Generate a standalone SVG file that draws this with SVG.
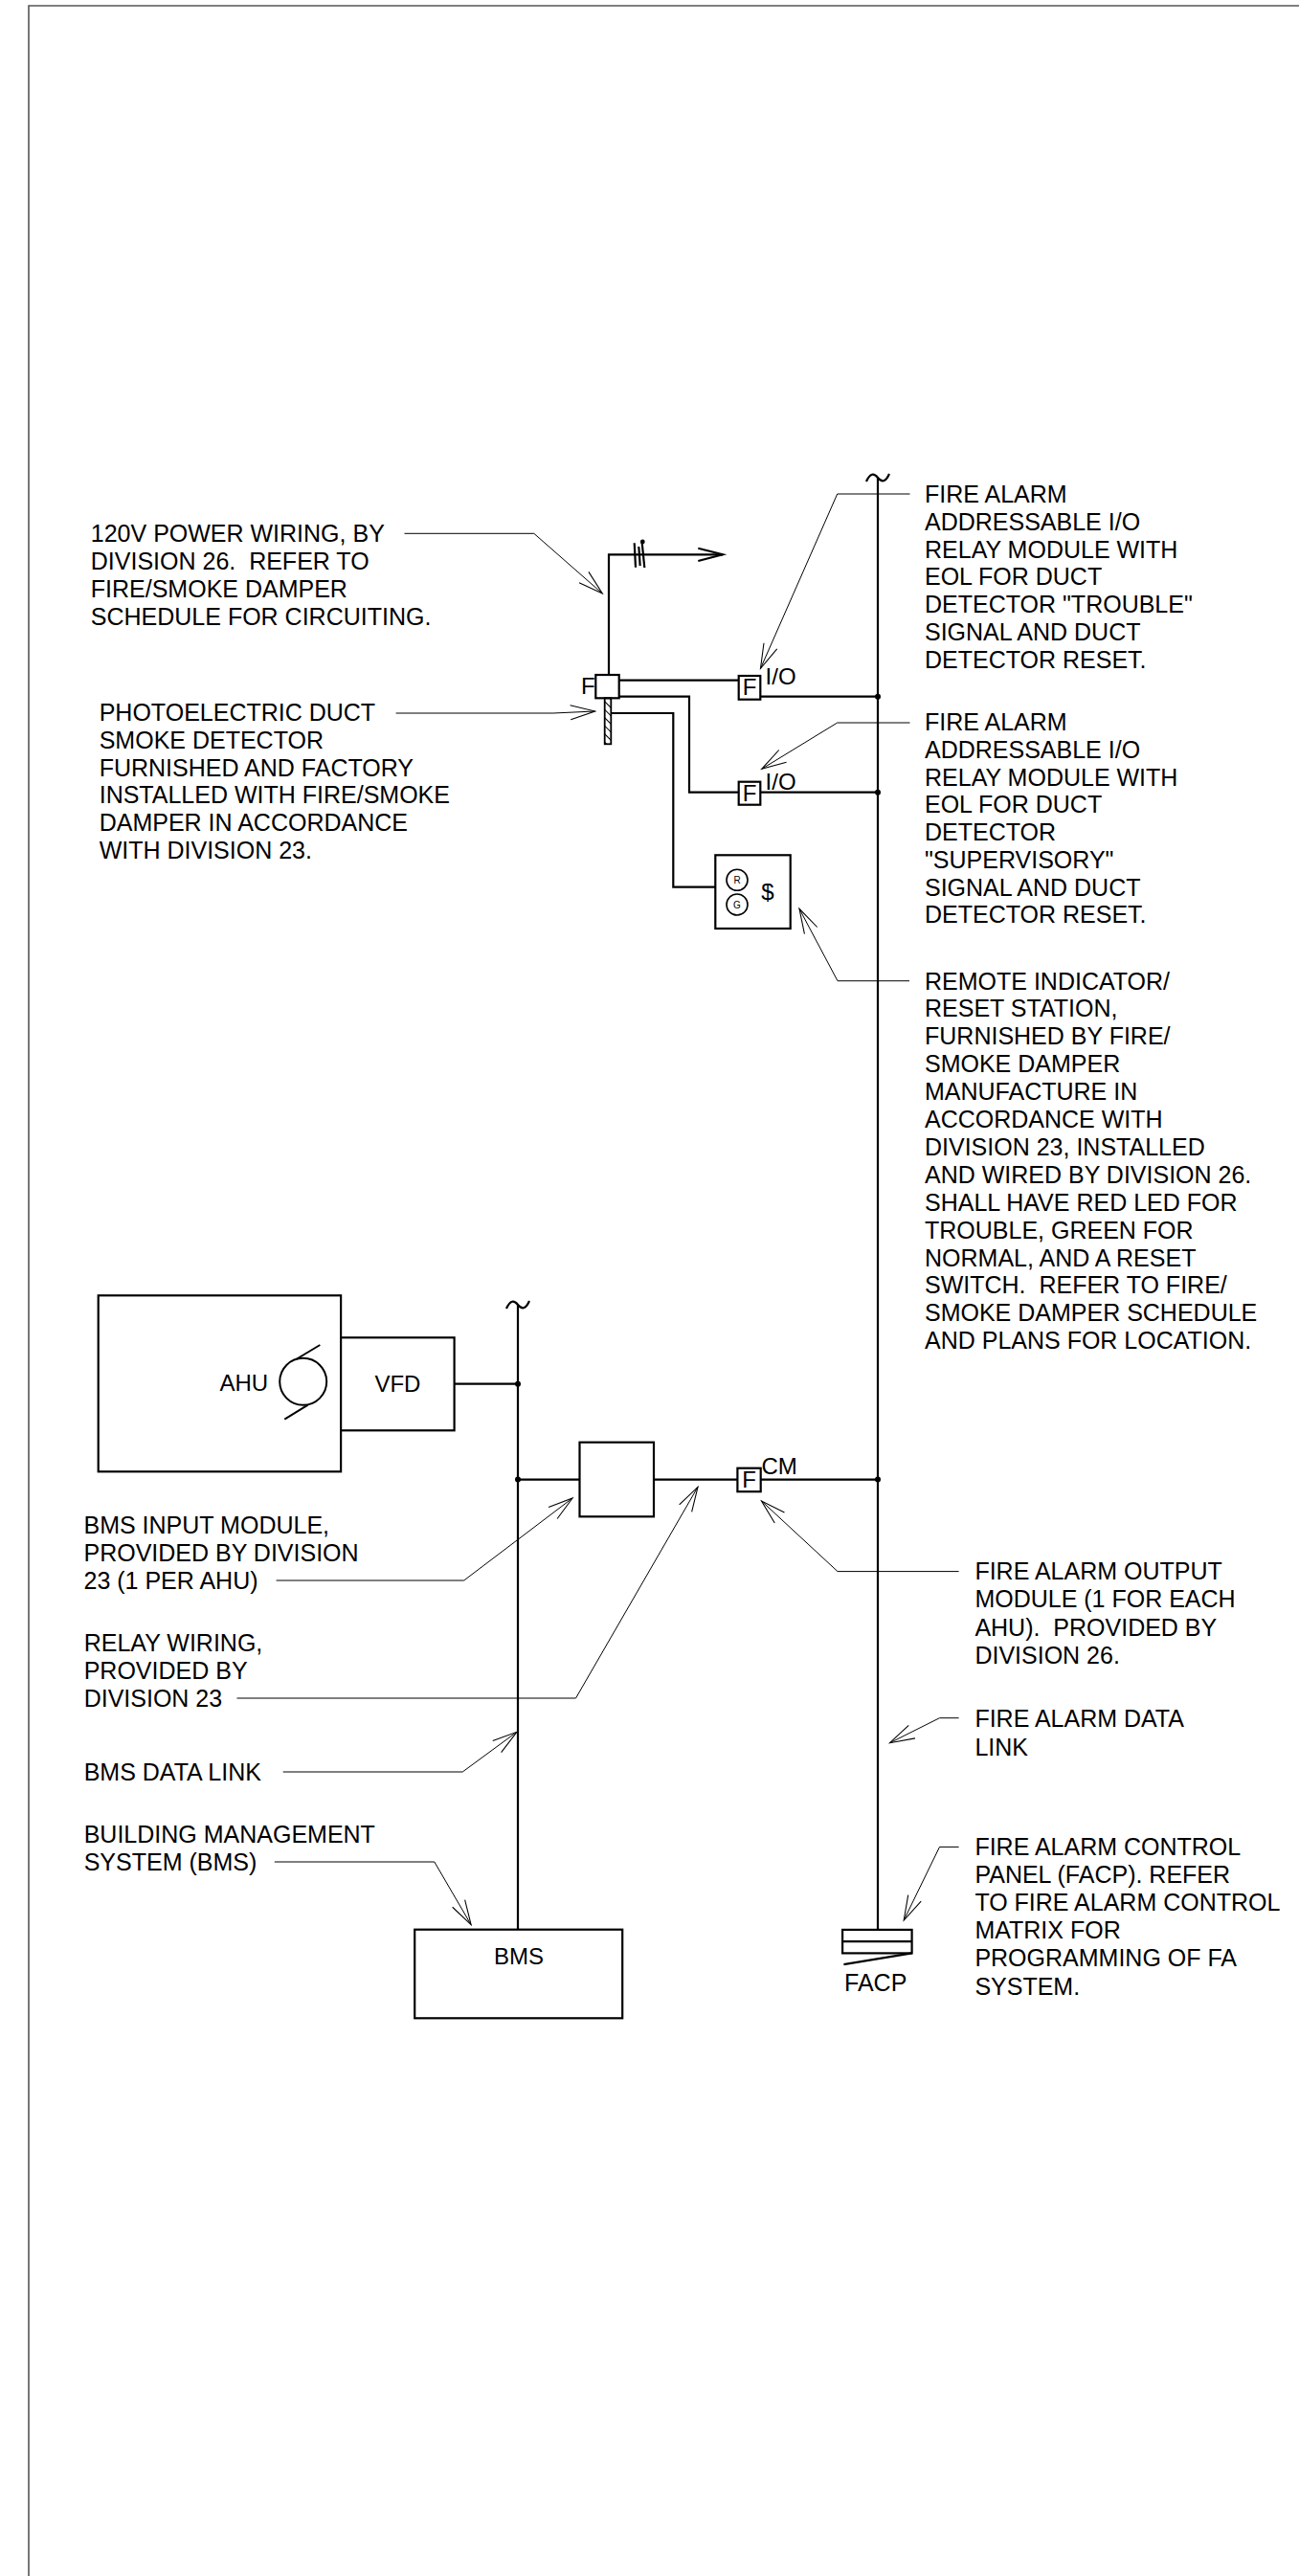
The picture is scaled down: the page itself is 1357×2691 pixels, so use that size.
<svg xmlns="http://www.w3.org/2000/svg" width="1357" height="2691" viewBox="0 0 1357 2691">
<style>
.note{font-family:"Liberation Sans",Arial,sans-serif;font-size:25px;fill:#000;white-space:pre}
.lbl{font-family:"Liberation Sans",Arial,sans-serif;font-size:24px;fill:#000}
.sm{font-family:"Liberation Sans",Arial,sans-serif;font-size:10px;fill:#000}
.wire{fill:none;stroke:#000;stroke-width:2.2}
.box{fill:#fff;stroke:#000;stroke-width:2.2}
.lead{fill:none;stroke:#000;stroke-width:1}
.frame{fill:none;stroke:#555;stroke-width:1.6}
</style>
<defs>
<marker id="open" markerUnits="userSpaceOnUse" markerWidth="30" markerHeight="20" viewBox="-26 -9 28 18" refX="0" refY="0" orient="auto">
<path d="M-24,-7 L0,0 L-24,7" fill="none" stroke="#000" stroke-width="1"/>
</marker>
<pattern id="hatch" patternUnits="userSpaceOnUse" width="6" height="6" patternTransform="rotate(-45)">
<line x1="0" y1="0" x2="0" y2="6" stroke="#000" stroke-width="2"/>
</pattern>
</defs>
<rect width="1357" height="2691" fill="#fff"/>
<path class="frame" d="M30,2691 V6 H1357"/>

<g id="connectors">
<path class="wire" d="M917,499 V2016"/>
<path class="wire" d="M905,503 C909,494 913,494 917,499 C921,504 925,504 929,495"/>
<path class="wire" d="M541,1363 V2016"/>
<path class="wire" d="M529,1367 C533,1358 537,1358 541,1363 C545,1368 549,1368 553,1359"/>
<path class="wire" d="M636,705 V579.3 H755"/>
<path class="wire" d="M729.3,572.7 L755,579.3 L729.3,586"/>
<line class="wire" x1="662.7" y1="567.3" x2="664" y2="592.7"/>
<line class="wire" x1="667.3" y1="571" x2="668.7" y2="591"/>
<line class="wire" x1="670.7" y1="567" x2="673.3" y2="593"/>
<circle cx="671.3" cy="566" r="2.4" fill="#000"/>
<path class="wire" d="M646.7,710.7 H771.7"/>
<path class="wire" d="M646.7,727.7 H720 V827.7 H771.7"/>
<path class="wire" d="M638.3,745 H703.3 V926.7 H747.3"/>
<path class="wire" d="M794.3,727.7 H917"/>
<path class="wire" d="M794.3,827.7 H917"/>
<path class="wire" d="M474.6,1445.7 H541"/>
<path class="wire" d="M541,1545.6 H605.5"/>
<path class="wire" d="M683,1545.6 H770.4"/>
<path class="wire" d="M794.7,1545.6 H917"/>
<circle cx="917" cy="727.7" r="3" fill="#000"/>
<circle cx="917" cy="827.7" r="3" fill="#000"/>
<circle cx="917" cy="1545.6" r="3" fill="#000"/>
<circle cx="541" cy="1445.7" r="3" fill="#000"/>
<circle cx="541" cy="1545.6" r="3" fill="#000"/>
<polyline class="lead" marker-end="url(#open)" points="422.5,557.3 557.8,557.3 629.3,620"/>
<polyline class="lead" marker-end="url(#open)" points="413.6,745 577.9,745 621.6,743"/>
<polyline class="lead" marker-end="url(#open)" points="950.5,516 874.7,516 794.5,698.3"/>
<polyline class="lead" marker-end="url(#open)" points="950.5,755 874.7,755 795.7,803.3"/>
<polyline class="lead" marker-end="url(#open)" points="950,1024.7 875,1024.7 835,949.3"/>
<polyline class="lead" marker-end="url(#open)" points="288.6,1651 484.7,1651 598.1,1565"/>
<polyline class="lead" marker-end="url(#open)" points="247.5,1774 601.5,1774 729,1553.3"/>
<polyline class="lead" marker-end="url(#open)" points="295.7,1851 483.2,1851 539.9,1809.3"/>
<polyline class="lead" marker-end="url(#open)" points="286.8,1945 453.8,1945 492.1,2010.7"/>
<polyline class="lead" marker-end="url(#open)" points="1001.6,1641.6 875,1641.6 795.5,1568"/>
<polyline class="lead" marker-end="url(#open)" points="1001.6,1794.7 981.5,1794.7 929.6,1820.7"/>
<polyline class="lead" marker-end="url(#open)" points="1001.6,1929.4 981.5,1929.4 944.2,2006"/>
</g>

<g id="duct-detector">
<rect class="box" x="622.3" y="705" width="24.4" height="24.3"/>
<rect x="631.7" y="729.3" width="6.6" height="48" fill="url(#hatch)" stroke="#000" stroke-width="1.8"/>
<text class="lbl" x="607" y="724.5" font-size="23">F</text>
</g>

<g id="io-module-trouble">
<rect class="box" x="771.7" y="706" width="22.6" height="24.7"/>
<text class="lbl" x="783" y="726" font-size="22" text-anchor="middle">F</text>
<text class="lbl" x="799.6" y="715">I/O</text>
</g>

<g id="io-module-supervisory">
<rect class="box" x="771.7" y="816.7" width="22.6" height="24"/>
<text class="lbl" x="783" y="836.5" font-size="22" text-anchor="middle">F</text>
<text class="lbl" x="799.6" y="825">I/O</text>
</g>

<g id="remote-station">
<rect class="box" x="747.3" y="893.3" width="78.4" height="76.7"/>
<circle cx="770" cy="919.3" r="11" fill="none" stroke="#000" stroke-width="1.6"/>
<circle cx="770" cy="945" r="11" fill="none" stroke="#000" stroke-width="1.6"/>
<text class="sm" x="770" y="923" text-anchor="middle">R</text>
<text class="sm" x="770" y="948.7" text-anchor="middle">G</text>
<text class="lbl" x="802" y="940" text-anchor="middle">$</text>
</g>

<g id="ahu">
<rect class="box" x="102.7" y="1353.3" width="253.4" height="184"/>
<text class="lbl" x="229.5" y="1452.7" font-size="25">AHU</text>
<circle cx="316.7" cy="1443.3" r="24.5" fill="none" stroke="#000" stroke-width="2"/>
<line x1="309.3" y1="1420" x2="334.3" y2="1405" stroke="#000" stroke-width="2"/>
<line x1="321.7" y1="1467.7" x2="297.3" y2="1482.7" stroke="#000" stroke-width="2"/>
</g>

<g id="vfd">
<rect class="box" x="356.1" y="1397.3" width="118.5" height="97"/>
<text class="lbl" x="415.4" y="1454.3" font-size="25" text-anchor="middle">VFD</text>
</g>

<g id="bms-input-module">
<rect class="box" x="605.5" y="1506.7" width="77.5" height="77.6"/>
</g>

<g id="fa-output-module">
<rect class="box" x="770.4" y="1533.7" width="24.3" height="24.5"/>
<text class="lbl" x="782.5" y="1554" font-size="22" text-anchor="middle">F</text>
<text class="lbl" x="795.5" y="1540">CM</text>
</g>

<g id="bms">
<rect class="box" x="433.2" y="2015.7" width="217" height="92.6"/>
<text class="lbl" x="542" y="2051.7" text-anchor="middle">BMS</text>
</g>

<g id="facp">
<rect class="box" x="880.1" y="2015.9" width="72.5" height="24.5"/>
<line class="wire" x1="880.1" y1="2028.1" x2="952.6" y2="2028.1"/>
<line class="wire" x1="881.4" y1="2052.2" x2="952.6" y2="2040.4"/>
<text class="note" x="914.7" y="2079.8" text-anchor="middle">FACP</text>
</g>

<g id="notes">
<text class="note" xml:space="preserve" x="94.8" y="566"><tspan x="94.8">120V POWER WIRING, BY</tspan><tspan x="94.8" dy="29">DIVISION 26.  REFER TO</tspan><tspan x="94.8" dy="29">FIRE/SMOKE DAMPER</tspan><tspan x="94.8" dy="29">SCHEDULE FOR CIRCUITING.</tspan></text>
<text class="note" x="103.7" y="753.3"><tspan x="103.7">PHOTOELECTRIC DUCT</tspan><tspan x="103.7" dy="28.7">SMOKE DETECTOR</tspan><tspan x="103.7" dy="28.7">FURNISHED AND FACTORY</tspan><tspan x="103.7" dy="28.7">INSTALLED WITH FIRE/SMOKE</tspan><tspan x="103.7" dy="28.7">DAMPER IN ACCORDANCE</tspan><tspan x="103.7" dy="28.7">WITH DIVISION 23.</tspan></text>
<text class="note" x="966" y="525"><tspan x="966">FIRE ALARM</tspan><tspan x="966" dy="28.75">ADDRESSABLE I/O</tspan><tspan x="966" dy="28.75">RELAY MODULE WITH</tspan><tspan x="966" dy="28.75">EOL FOR DUCT</tspan><tspan x="966" dy="28.75">DETECTOR "TROUBLE"</tspan><tspan x="966" dy="28.75">SIGNAL AND DUCT</tspan><tspan x="966" dy="28.75">DETECTOR RESET.</tspan></text>
<text class="note" x="966" y="763"><tspan x="966">FIRE ALARM</tspan><tspan x="966" dy="28.75">ADDRESSABLE I/O</tspan><tspan x="966" dy="28.75">RELAY MODULE WITH</tspan><tspan x="966" dy="28.75">EOL FOR DUCT</tspan><tspan x="966" dy="28.75">DETECTOR</tspan><tspan x="966" dy="28.75">"SUPERVISORY"</tspan><tspan x="966" dy="28.75">SIGNAL AND DUCT</tspan><tspan x="966" dy="28.75">DETECTOR RESET.</tspan></text>
<text class="note" xml:space="preserve" x="966" y="1033.5"><tspan x="966">REMOTE INDICATOR/</tspan><tspan x="966" dy="28.9">RESET STATION,</tspan><tspan x="966" dy="28.9">FURNISHED BY FIRE/</tspan><tspan x="966" dy="28.9">SMOKE DAMPER</tspan><tspan x="966" dy="28.9">MANUFACTURE IN</tspan><tspan x="966" dy="28.9">ACCORDANCE WITH</tspan><tspan x="966" dy="28.9">DIVISION 23, INSTALLED</tspan><tspan x="966" dy="28.9">AND WIRED BY DIVISION 26.</tspan><tspan x="966" dy="28.9">SHALL HAVE RED LED FOR</tspan><tspan x="966" dy="28.9">TROUBLE, GREEN FOR</tspan><tspan x="966" dy="28.9">NORMAL, AND A RESET</tspan><tspan x="966" dy="28.9">SWITCH.  REFER TO FIRE/</tspan><tspan x="966" dy="28.9">SMOKE DAMPER SCHEDULE</tspan><tspan x="966" dy="28.9">AND PLANS FOR LOCATION.</tspan></text>
<text class="note" x="87.5" y="1601.7"><tspan x="87.5">BMS INPUT MODULE,</tspan><tspan x="87.5" dy="29">PROVIDED BY DIVISION</tspan><tspan x="87.5" dy="29">23 (1 PER AHU)</tspan></text>
<text class="note" x="87.7" y="1725"><tspan x="87.7">RELAY WIRING,</tspan><tspan x="87.7" dy="29">PROVIDED BY</tspan><tspan x="87.7" dy="29">DIVISION 23</tspan></text>
<text class="note" x="87.7" y="1860">BMS DATA LINK</text>
<text class="note" x="87.7" y="1925"><tspan x="87.7">BUILDING MANAGEMENT</tspan><tspan x="87.7" dy="29.3">SYSTEM (BMS)</tspan></text>
<text class="note" xml:space="preserve" x="1018.4" y="1650"><tspan x="1018.4">FIRE ALARM OUTPUT</tspan><tspan x="1018.4" dy="29.3">MODULE (1 FOR EACH</tspan><tspan x="1018.4" dy="29.3">AHU).  PROVIDED BY</tspan><tspan x="1018.4" dy="29.3">DIVISION 26.</tspan></text>
<text class="note" x="1018.4" y="1804"><tspan x="1018.4">FIRE ALARM DATA</tspan><tspan x="1018.4" dy="29.7">LINK</tspan></text>
<text class="note" x="1018.4" y="1938"><tspan x="1018.4">FIRE ALARM CONTROL</tspan><tspan x="1018.4" dy="29.1">PANEL (FACP). REFER</tspan><tspan x="1018.4" dy="29.1">TO FIRE ALARM CONTROL</tspan><tspan x="1018.4" dy="29.1">MATRIX FOR</tspan><tspan x="1018.4" dy="29.1">PROGRAMMING OF FA</tspan><tspan x="1018.4" dy="29.1">SYSTEM.</tspan></text>
</g>
</svg>
